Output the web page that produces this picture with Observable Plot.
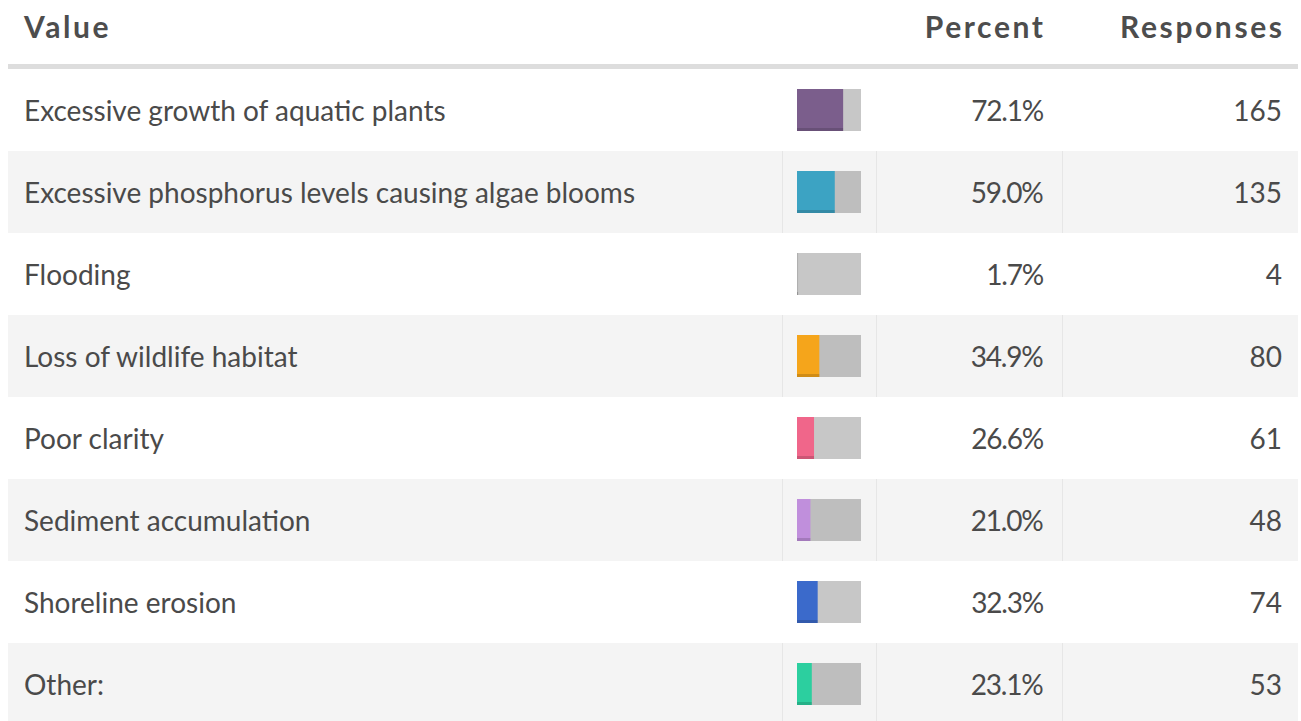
<!DOCTYPE html>
<html>
<head>
<meta charset="utf-8">
<script src="https://cdn.jsdelivr.net/npm/d3@7"></script>
<script src="https://cdn.jsdelivr.net/npm/@observablehq/plot@0.6"></script>
<style>
  html, body { margin: 0; padding: 0; background: #fff; overflow: hidden; width: 1301px; height: 721px; }
  #wrap { position: relative; margin-left: 8px; width: 1290px; font-family: Lato, "Open Sans", sans-serif; color: #4a4a4a; }
  table { border-collapse: collapse; table-layout: fixed; width: 1290px; }
  th { height: 64px; padding: 0; font-size: 30px; font-weight: 700; vertical-align: top; line-height: 30px; color: #4d4d4d; letter-spacing: 2.6px; }
  th div { padding-top: 11px; }
  th.c3 div { margin-right: -2.6px; }
  th.c4 div { margin-right: -2.6px; }
  thead tr { border-bottom: 5px solid #dddddd; }
  td { height: 82px; padding: 0; font-size: 28px; vertical-align: middle; }
  tbody tr:nth-child(even) { background: #f4f4f4; }
  tbody tr:nth-child(even) td + td { border-left: 1px solid #e6e6e6; }
  .c1 { text-align: left; padding-left: 16px; }
  .c3 { text-align: right; padding-right: 19px; }
  .c4 { text-align: right; padding-right: 16px; }
  td.c3 { letter-spacing: -1.2px; }
  #bars { position: absolute; left: 789px; top: 69px; }
</style>
</head>
<body>
<div id="wrap">
  <table>
    <colgroup><col style="width:774px"><col style="width:94px"><col style="width:186px"><col style="width:236px"></colgroup>
    <thead><tr id="hdr"></tr></thead>
    <tbody id="body"></tbody>
  </table>
  <div id="bars"></div>
</div>
<script>
const headers = ["Value", "", "Percent", "Responses"];
const categories = [
  "Excessive growth of aquatic plants",
  "Excessive phosphorus levels causing algae blooms",
  "Flooding",
  "Loss of wildlife habitat",
  "Poor clarity",
  "Sediment accumulation",
  "Shoreline erosion",
  "Other:"
];
const percents = [72.1, 59.0, 1.7, 34.9, 26.6, 21.0, 32.3, 23.1];
const responses = [165, 135, 4, 80, 61, 48, 74, 53];
const colors = ["#7b5e8c", "#3ca3c3", "#b0b0b0", "#f5a51b", "#f0668a", "#c08fdc", "#3b6acb", "#2ccf9f"];

const rows = categories.map((c, i) => ({category: c, percent: percents[i], responses: responses[i], color: colors[i]}));

const hdr = document.getElementById("hdr");
headers.forEach((h, i) => {
  const th = document.createElement("th");
  th.className = "c" + (i + 1);
  const div = document.createElement("div");
  div.textContent = h;
  th.appendChild(div);
  hdr.appendChild(th);
});
const tbody = document.getElementById("body");
rows.forEach(r => {
  const tr = document.createElement("tr");
  [r.category, "", r.percent.toFixed(1) + "%", String(r.responses)].forEach((t, i) => {
    const td = document.createElement("td");
    td.className = "c" + (i + 1);
    td.textContent = t;
    tr.appendChild(td);
  });
  tbody.appendChild(tr);
});

const chart = Plot.plot({
  width: 64,
  height: 82 * categories.length,
  margin: 0,
  style: {background: "transparent", overflow: "visible"},
  x: {domain: [0, 100], axis: null},
  y: {domain: categories, padding: 0, axis: null},
  color: {type: "identity"},
  marks: [
    Plot.barX(rows, {x: d => 100, y: "category", fill: "rgba(0,0,0,0.22)", insetTop: 20, insetBottom: 20}),
    Plot.barX(rows, {x: "percent", y: "category", fill: "color", insetTop: 20, insetBottom: 20}),
    Plot.barX(rows, {x: "percent", y: "category", fill: "rgba(0,0,0,0.15)", insetTop: 59, insetBottom: 20})
  ]
});
document.getElementById("bars").appendChild(chart);
</script>
</body>
</html>
